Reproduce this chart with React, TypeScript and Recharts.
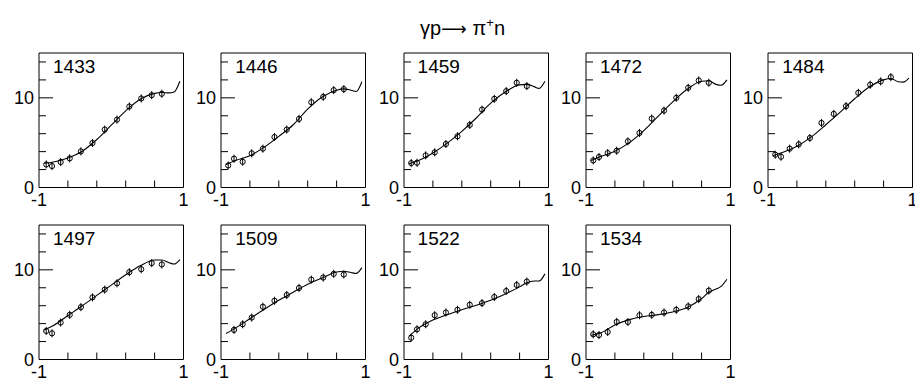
import React from 'react';
import { ComposedChart, Line, Scatter, ErrorBar, XAxis, YAxis, ReferenceArea } from 'recharts';

// beam energies (panel labels)
const ENERGIES = ['1433', '1446', '1459', '1472', '1484', '1497', '1509', '1522', '1534'];

// cos(theta) of the measured points and of the fit curve
const X_POINTS = [-0.9, -0.82, -0.7, -0.575, -0.42, -0.26, -0.09, 0.08, 0.25, 0.415, 0.56, 0.7];
const X_FIT = [-0.93, -0.8, -0.6, -0.4, -0.2, 0, 0.2, 0.4, 0.6, 0.7, 0.8, 0.87, 0.95];

// measured dsigma/dOmega
const Y_1433 = [2.57, 2.39, 2.84, 3.25, 4.03, 4.96, 6.46, 7.57, 9.03, 9.93, 10.3, 10.45];
const Y_1446 = [2.46, 3.21, 2.87, 3.81, 4.33, 5.63, 6.46, 7.65, 9.51, 10.11, 10.86, 10.97];
const Y_1459 = [2.72, 2.76, 3.58, 3.92, 4.85, 5.71, 6.98, 8.69, 9.89, 10.75, 11.68, 11.31];
const Y_1472 = [3.02, 3.4, 3.84, 4.1, 5.15, 6.08, 7.69, 8.58, 10.0, 11.12, 11.94, 11.68];
const Y_1484 = [3.66, 3.43, 4.33, 4.81, 5.52, 7.2, 8.21, 9.07, 10.56, 11.46, 11.83, 12.31];
const Y_1497 = [3.18, 2.92, 4.12, 4.98, 5.84, 6.93, 7.79, 8.5, 9.74, 10.07, 10.75, 10.6];
const Y_1509 = [null, 3.3, 3.93, 4.68, 5.88, 6.55, 7.19, 7.98, 8.91, 9.14, 9.55, 9.48];
const Y_1522 = [2.43, 3.37, 3.93, 4.94, 5.24, 5.54, 6.1, 6.29, 6.97, 7.64, 8.31, 8.69];
const Y_1534 = [2.81, 2.73, 3.07, 4.19, 4.19, 4.94, 4.98, 5.24, 5.54, 5.92, 6.74, 7.68];

// fit curves
const FIT_1433 = [2.7, 2.85, 3.3, 4.05, 5.35, 6.95, 8.55, 9.85, 10.5, 10.6, 10.55, 10.65, 11.85];
const FIT_1446 = [2.55, 3.0, 3.55, 4.5, 5.7, 7.0, 8.75, 10.1, 10.85, 11.0, 10.85, 10.7, 11.8];
const FIT_1459 = [2.65, 3.0, 3.85, 4.95, 6.25, 7.75, 9.4, 10.65, 11.45, 11.5, 11.25, 11.05, 11.85];
const FIT_1472 = [3.0, 3.45, 4.05, 5.0, 6.35, 7.95, 9.55, 10.95, 11.85, 11.9, 11.5, 11.4, 12.0];
const FIT_1484 = [3.55, 3.9, 4.6, 5.65, 7.0, 8.4, 9.9, 11.2, 12.0, 12.15, 11.8, 11.75, 12.2];
const FIT_1497 = [3.3, 3.8, 4.9, 6.0, 7.15, 8.3, 9.45, 10.45, 11.1, 11.1, 10.8, 10.65, 11.15];
const FIT_1509 = [2.9, 3.5, 4.55, 5.6, 6.6, 7.5, 8.4, 9.1, 9.75, 9.85, 9.7, 9.6, 10.25];
const FIT_1522 = [2.6, 3.5, 4.4, 5.0, 5.55, 6.05, 6.6, 7.3, 8.1, 8.55, 8.75, 8.75, 9.55];
const FIT_1534 = [2.7, 2.95, 3.85, 4.45, 4.8, 5.0, 5.3, 5.8, 6.8, 7.5, 7.85, 8.15, 8.95];

const POINT_ERR = 0.45;

const X_TICKS = [-1, -0.6, -0.2, 0.2, 0.6, 1];
const Y_TICKS = [0, 2, 4, 6, 8, 10, 12, 14];

const SERIES = [Y_1433, Y_1446, Y_1459, Y_1472, Y_1484, Y_1497, Y_1509, Y_1522, Y_1534];
const FITS = [FIT_1433, FIT_1446, FIT_1459, FIT_1472, FIT_1484, FIT_1497, FIT_1509, FIT_1522, FIT_1534];

const FONT = '"Liberation Sans", Arial, Helvetica, sans-serif';
const PLOT_W = 144.5;
const PLOT_H = 134.5;
const LEFT_PAD = 40;
const TOP_PAD = 10;
const RIGHT_PAD = 12;
const BOTTOM_PAD = 26;
const COL_X = [39, 221.3, 403.6, 585.9, 768.2];
const ROW_Y = [53.3, 225.3];

const XTick = (props: any) => {
  const { x, y, payload } = props;
  const v = payload.value;
  const edge = v === -1 || v === 1;
  return (
    <g>
      {!edge && <line x1={x} x2={x} y1={y} y2={y - 7} stroke="#000" strokeWidth={1} />}
      {edge && (
        <text x={x} y={y + 18} textAnchor="middle" fontSize={18} fontFamily={FONT} fill="#000">
          {v}
        </text>
      )}
    </g>
  );
};

const YTick = (props: any) => {
  const { x, y, payload } = props;
  const v = payload.value;
  const major = v === 0 || v === 10;
  return (
    <g>
      <line x1={x} x2={x + (major ? 14 : 7)} y1={y} y2={y} stroke="#000" strokeWidth={1} />
      {major && (
        <text x={x - 5} y={y + 6.5} textAnchor="end" fontSize={18} fontFamily={FONT} fill="#000">
          {v}
        </text>
      )}
    </g>
  );
};

const Marker = (props: any) => (
  <circle cx={props.cx} cy={props.cy} r={2.6} fill="none" stroke="#000" strokeWidth={1} />
);

const Panel = ({ index }: { index: number }) => {
  const fitRows = X_FIT.map((x, i) => ({ x, fit: FITS[index][i] }));
  const pts = X_POINTS.map((x, i) => ({ x, y: SERIES[index][i], err: POINT_ERR })).filter(
    (p) => p.y !== null
  );
  const left = COL_X[index % 5] - LEFT_PAD;
  const top = ROW_Y[Math.floor(index / 5)] - TOP_PAD;
  return (
    <div style={{ position: 'absolute', left, top }}>
      <ComposedChart
        width={LEFT_PAD + PLOT_W + RIGHT_PAD}
        height={TOP_PAD + PLOT_H + BOTTOM_PAD}
        data={fitRows}
        margin={{ top: TOP_PAD, right: RIGHT_PAD, bottom: 0, left: 0 }}
      >
        <XAxis
          type="number"
          dataKey="x"
          domain={[-1, 1]}
          ticks={X_TICKS}
          interval={0}
          height={BOTTOM_PAD}
          tickSize={0}
          tickMargin={0}
          axisLine={false}
          tickLine={false}
          tick={XTick}
          allowDataOverflow
        />
        <YAxis
          type="number"
          domain={[0, 15]}
          ticks={Y_TICKS}
          interval={0}
          width={LEFT_PAD}
          tickSize={0}
          tickMargin={0}
          axisLine={false}
          tickLine={false}
          tick={YTick}
          allowDataOverflow
        />
        <ReferenceArea x1={-1} x2={1} y1={0} y2={15} fill="none" stroke="#000" strokeWidth={1} />
        <Line
          dataKey="fit"
          type="monotone"
          stroke="#000"
          strokeWidth={1.1}
          dot={false}
          isAnimationActive={false}
        />
        <Scatter data={pts} dataKey="y" shape={Marker} isAnimationActive={false}>
          <ErrorBar dataKey="err" direction="y" width={0} stroke="#000" strokeWidth={1} />
        </Scatter>
      </ComposedChart>
    </div>
  );
};

export default function App() {
  return (
    <div style={{ position: 'absolute', left: 0, top: 0, width: 915, height: 378, background: '#fff' }}>
      {ENERGIES.map((_, i) => (
        <Panel key={i} index={i} />
      ))}
      <svg
        width={915}
        height={378}
        style={{ position: 'absolute', left: 0, top: 0, pointerEvents: 'none' }}
      >
        <text x={462.5} y={35} textAnchor="middle" fontSize={20} fontFamily={FONT} fill="#000">
          γp
          <tspan fontFamily='"DejaVu Sans", sans-serif' fontSize={18}>⟶</tspan> π
          <tspan dy={-8} fontSize={13}>+</tspan>
          <tspan dy={8}>n</tspan>
        </text>
        {ENERGIES.map((e, i) => (
          <text
            key={e}
            x={COL_X[i % 5] + 14}
            y={ROW_Y[Math.floor(i / 5)] + 20}
            fontSize={19}
            fontFamily={FONT}
            fill="#000"
          >
            {e}
          </text>
        ))}
      </svg>
    </div>
  );
}
